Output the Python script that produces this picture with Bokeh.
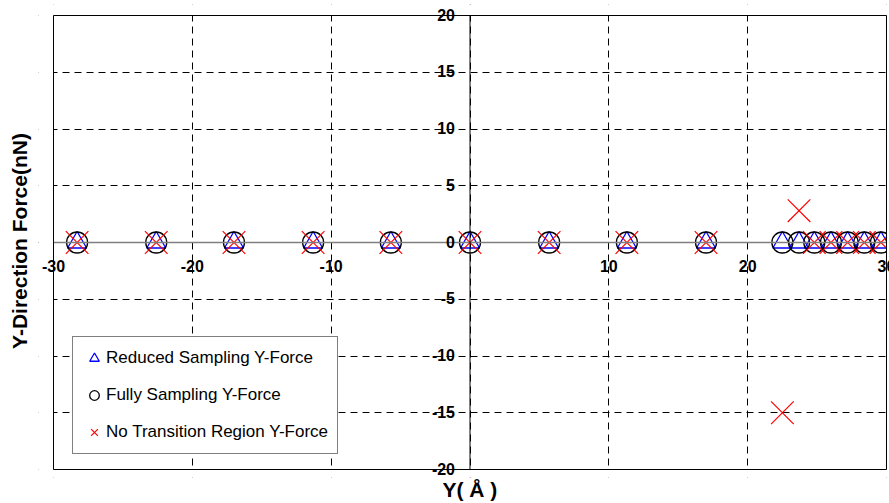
from bokeh.plotting import figure
from bokeh.models import ColumnDataSource, FixedTicker, Title, Label, Span, BoxAnnotation
from bokeh.embed import file_html
from bokeh.resources import INLINE

# ---- data ----
y_position = [-28.3, -22.6, -17.0, -11.3, -5.7, 0.0, 5.7, 11.3, 17.0,
              22.5, 23.7, 24.8, 26.0, 27.2, 28.4, 29.6]
reduced_force = [0.0, 0.0, 0.0, 0.0, 0.0, 0.0, 0.0, 0.0, 0.0,
                 0.0, 0.0, 0.0, 0.0, 0.0, 0.0, 0.0]
fully_force = [0.0, 0.0, 0.0, 0.0, 0.0, 0.0, 0.0, 0.0, 0.0,
               0.0, 0.0, 0.0, 0.0, 0.0, 0.0, 0.0]
no_transition_force = [0.0, 0.0, 0.0, 0.0, 0.0, 0.0, 0.0, 0.0, 0.0,
                       -15.0, 2.8, 0.0, 0.0, 0.0, 0.0, 0.0]

x_ticks = [-30, -20, -10, 10, 20, 30]
x_tick_labels = ["-30", "-20", "-10", "10", "20", "30"]
y_ticks = [-20, -15, -10, -5, 0, 5, 10, 15, 20]
y_tick_labels = ["-20", "-15", "-10", "-5", "0", "5", "10", "15", "20"]
x_grid = [-30, -20, -10, 0, 10, 20, 30]
x_lim = (-30, 30)
y_lim = (-20, 20)

FONT = "Liberation Sans"

# the frame is a little larger than the plotting box so that the edge tick
# labels are not clipped; the box itself is drawn at x_lim / y_lim
PX_X = 13.883   # pixels per x unit
PX_Y = 11.35    # pixels per y unit
x_range = (x_lim[0] - 15 / PX_X, x_lim[1] + 3 / PX_X)
y_range = (y_lim[0] - 8 / PX_Y, y_lim[1] + 11 / PX_Y)

p = figure(width=889, height=503, x_range=x_range, y_range=y_range,
           output_backend="svg", toolbar_location=None,
           x_axis_location=None, y_axis_location=None,
           min_border_left=38, min_border_right=0, min_border_top=4,
           min_border_bottom=26)
p.background_fill_color = "white"
p.border_fill_color = "white"
p.outline_line_color = None

p.xgrid.ticker = FixedTicker(ticks=x_grid)
p.ygrid.ticker = FixedTicker(ticks=y_ticks)
for g in (p.xgrid, p.ygrid):
    g.grid_line_color = "black"
    g.grid_line_dash = "7 5"
    g.grid_line_width = 1

src = ColumnDataSource(dict(x=y_position, r=reduced_force, f=fully_force, n=no_transition_force))
p.scatter("x", "r", source=src, marker="triangle", size=19, fill_color=None,
          line_color="blue", line_width=1.3, legend_label="Reduced Sampling Y-Force")
p.scatter("x", "f", source=src, marker="circle", size=21, fill_color=None,
          line_color="black", line_width=1.3, legend_label="Fully Sampling Y-Force")
p.scatter("x", "n", source=src, marker="x", size=32, fill_color=None,
          line_color="red", line_width=1.2, legend_label="No Transition Region Y-Force")

# axes crossing at the origin
p.add_layout(Span(location=0, dimension="width", line_color="#7f7f7f", line_width=1.6))
p.add_layout(Span(location=0, dimension="height", line_color="black", line_width=1))

# white masks outside the plotting box, then the box outline
for kw in (dict(right=x_lim[0]), dict(left=x_lim[1]), dict(top=y_lim[0]), dict(bottom=y_lim[1])):
    p.add_layout(BoxAnnotation(fill_color="white", fill_alpha=1.0, line_color=None, **kw))
p.add_layout(BoxAnnotation(left=x_lim[0], right=x_lim[1], bottom=y_lim[0], top=y_lim[1],
                           fill_alpha=0.0, line_color="black", line_width=1, line_alpha=1.0))

# tick labels at the crossing axes
for t, lab in zip(x_ticks, x_tick_labels):
    p.add_layout(Label(x=t, y=0, text=lab, y_offset=-17, text_align="center",
                       text_baseline="top", text_font=FONT, text_font_style="bold",
                       text_font_size="16px", text_color="black"))
for t, lab in zip(y_ticks, y_tick_labels):
    p.add_layout(Label(x=0, y=t, text=lab, x_offset=-15, y_offset=1, text_align="right",
                       text_baseline="middle", text_font=FONT, text_font_style="bold",
                       text_font_size="16px", text_color="black"))

# axis titles
p.add_layout(Title(text="Y( Å )", align="left", offset=404, text_font=FONT,
                   text_font_style="bold", text_font_size="21px", text_color="black",
                   standoff=0, vertical_align="top"), "below")
p.add_layout(Title(text="Y-Direction Force(nN)", align="center", text_font=FONT,
                   text_font_style="bold", text_font_size="21px", text_color="black",
                   standoff=12, vertical_align="top"), "left")

lg = p.legend[0]
lg.location = (34, 23)
lg.margin = 0
lg.padding = 9
lg.spacing = 13
lg.glyph_width = 24
lg.glyph_height = 24
lg.label_height = 24
lg.label_standoff = 0
lg.label_text_font = FONT
lg.label_text_font_size = "17px"
lg.label_text_color = "black"
lg.border_line_color = "black"
lg.border_line_width = 1
lg.background_fill_color = "white"
lg.background_fill_alpha = 1.0

open("out.html", "w").write(file_html(p, INLINE))
